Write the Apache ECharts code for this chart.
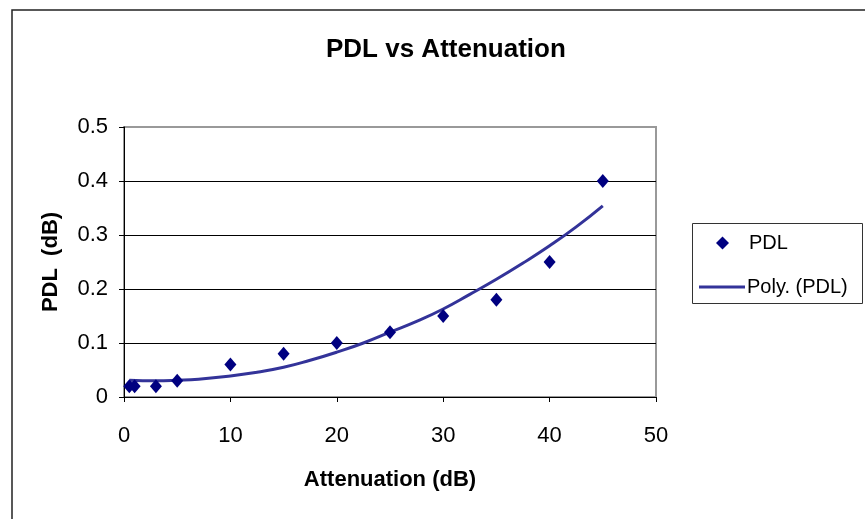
<!DOCTYPE html>
<html>
<head>
<meta charset="utf-8">
<script src="https://cdn.jsdelivr.net/npm/echarts@6/dist/echarts.min.js"></script>
<style>
html,body{margin:0;padding:0;background:#fff;}
#chart{width:865px;height:519px;}
</style>
</head>
<body>
<div id="chart"></div>
<script>
// Measured data points (Attenuation dB, PDL dB)
var attenuation = [0.5, 1, 3, 5, 10, 15, 20, 25, 30, 35, 40, 45];
var pdl = [0.02, 0.02, 0.02, 0.03, 0.06, 0.08, 0.10, 0.12, 0.15, 0.18, 0.25, 0.40];
// Polynomial trend line
var trendX = [0.5, 3, 5, 7, 10, 12.5, 15, 17.5, 20, 22.5, 25, 27.5, 30, 32.5, 35, 37.5, 40, 42.5, 45];
var trendY = [0.031, 0.030, 0.031, 0.033, 0.039, 0.046, 0.055, 0.068, 0.083, 0.100, 0.120, 0.140, 0.163, 0.190, 0.218, 0.248, 0.280, 0.315, 0.354];
var xTicks = [0, 10, 20, 30, 40, 50];
var yTicks = [0, 0.1, 0.2, 0.3, 0.4, 0.5];

var FONT = '"Liberation Sans", Arial, sans-serif';

var chart = echarts.init(document.getElementById('chart'), null, {renderer: 'canvas'});
chart.setOption({
  animation: false,
  backgroundColor: '#fff',
  textStyle: {fontFamily: FONT},
  title: {
    text: 'PDL vs Attenuation',
    left: 321,
    top: 32,
    textStyle: {fontFamily: FONT, fontSize: 26, fontWeight: 'bold', color: '#000'}
  },
  graphic: [{
    type: 'rect',
    shape: {x: 12, y: 10, width: 900, height: 600},
    style: {fill: 'none', stroke: '#222', lineWidth: 1.5},
    silent: true, z: -1
  }, {
    type: 'rect',
    shape: {x: 692.5, y: 223.5, width: 170, height: 80},
    style: {fill: 'none', stroke: '#333', lineWidth: 1},
    silent: true, z: 10
  }],
  legend: [{
    orient: 'vertical',
    left: 716,
    top: 233,
    padding: 0,
    itemWidth: 13,
    itemHeight: 13,
    icon: 'diamond',
    itemStyle: {opacity: 1},
    textStyle: {fontFamily: FONT, fontSize: 20, color: '#000', padding: [0, 0, 0, 15]},
    data: ['PDL']
  }, {
    orient: 'vertical',
    left: 699,
    top: 277,
    padding: 0,
    itemWidth: 46,
    itemHeight: 3,
    icon: 'rect',
    textStyle: {fontFamily: FONT, fontSize: 20, color: '#000', padding: [0, 0, 0, -3]},
    data: ['Poly. (PDL)']
  }],
  grid: {
    left: 124, right: 209, top: 127, bottom: 122,
    show: true, borderColor: '#999', borderWidth: 2, backgroundColor: '#fff'
  },
  xAxis: {
    type: 'value',
    min: xTicks[0], max: xTicks[xTicks.length - 1], interval: 10,
    name: 'Attenuation (dB)',
    nameLocation: 'middle',
    nameGap: 72,
    nameTextStyle: {fontFamily: FONT, fontSize: 22, fontWeight: 'bold', color: '#000'},
    axisLine: {lineStyle: {color: '#000', width: 1}},
    axisTick: {show: true, length: 5, lineStyle: {color: '#000'}},
    axisLabel: {fontFamily: FONT, fontSize: 22, color: '#000', margin: 28},
    splitLine: {show: false}
  },
  yAxis: {
    type: 'value',
    min: yTicks[0], max: yTicks[yTicks.length - 1], interval: 0.1,
    name: 'PDL  (dB)',
    nameLocation: 'middle',
    nameGap: 62,
    nameTextStyle: {fontFamily: FONT, fontSize: 22, fontWeight: 'bold', color: '#000'},
    axisLine: {show: true, lineStyle: {color: '#000', width: 1}},
    axisTick: {show: true, length: 5, lineStyle: {color: '#000'}},
    axisLabel: {fontFamily: FONT, fontSize: 22, color: '#000', margin: 16},
    splitLine: {show: true, showMaxLine: false, lineStyle: {color: '#000', width: 1}}
  },
  series: [{
    name: 'PDL',
    type: 'scatter',
    symbol: 'diamond',
    symbolSize: [12, 14],
    itemStyle: {color: '#000080', opacity: 1},
    data: attenuation.map(function (x, i) { return [x, pdl[i]]; }),
    z: 3
  }, {
    name: 'Poly. (PDL)',
    type: 'line',
    symbol: 'none',
    smooth: true,
    lineStyle: {color: '#333399', width: 3},
    itemStyle: {color: '#333399'},
    data: trendX.map(function (x, i) { return [x, trendY[i]]; }),
    z: 2
  }]
});
</script>
</body>
</html>
